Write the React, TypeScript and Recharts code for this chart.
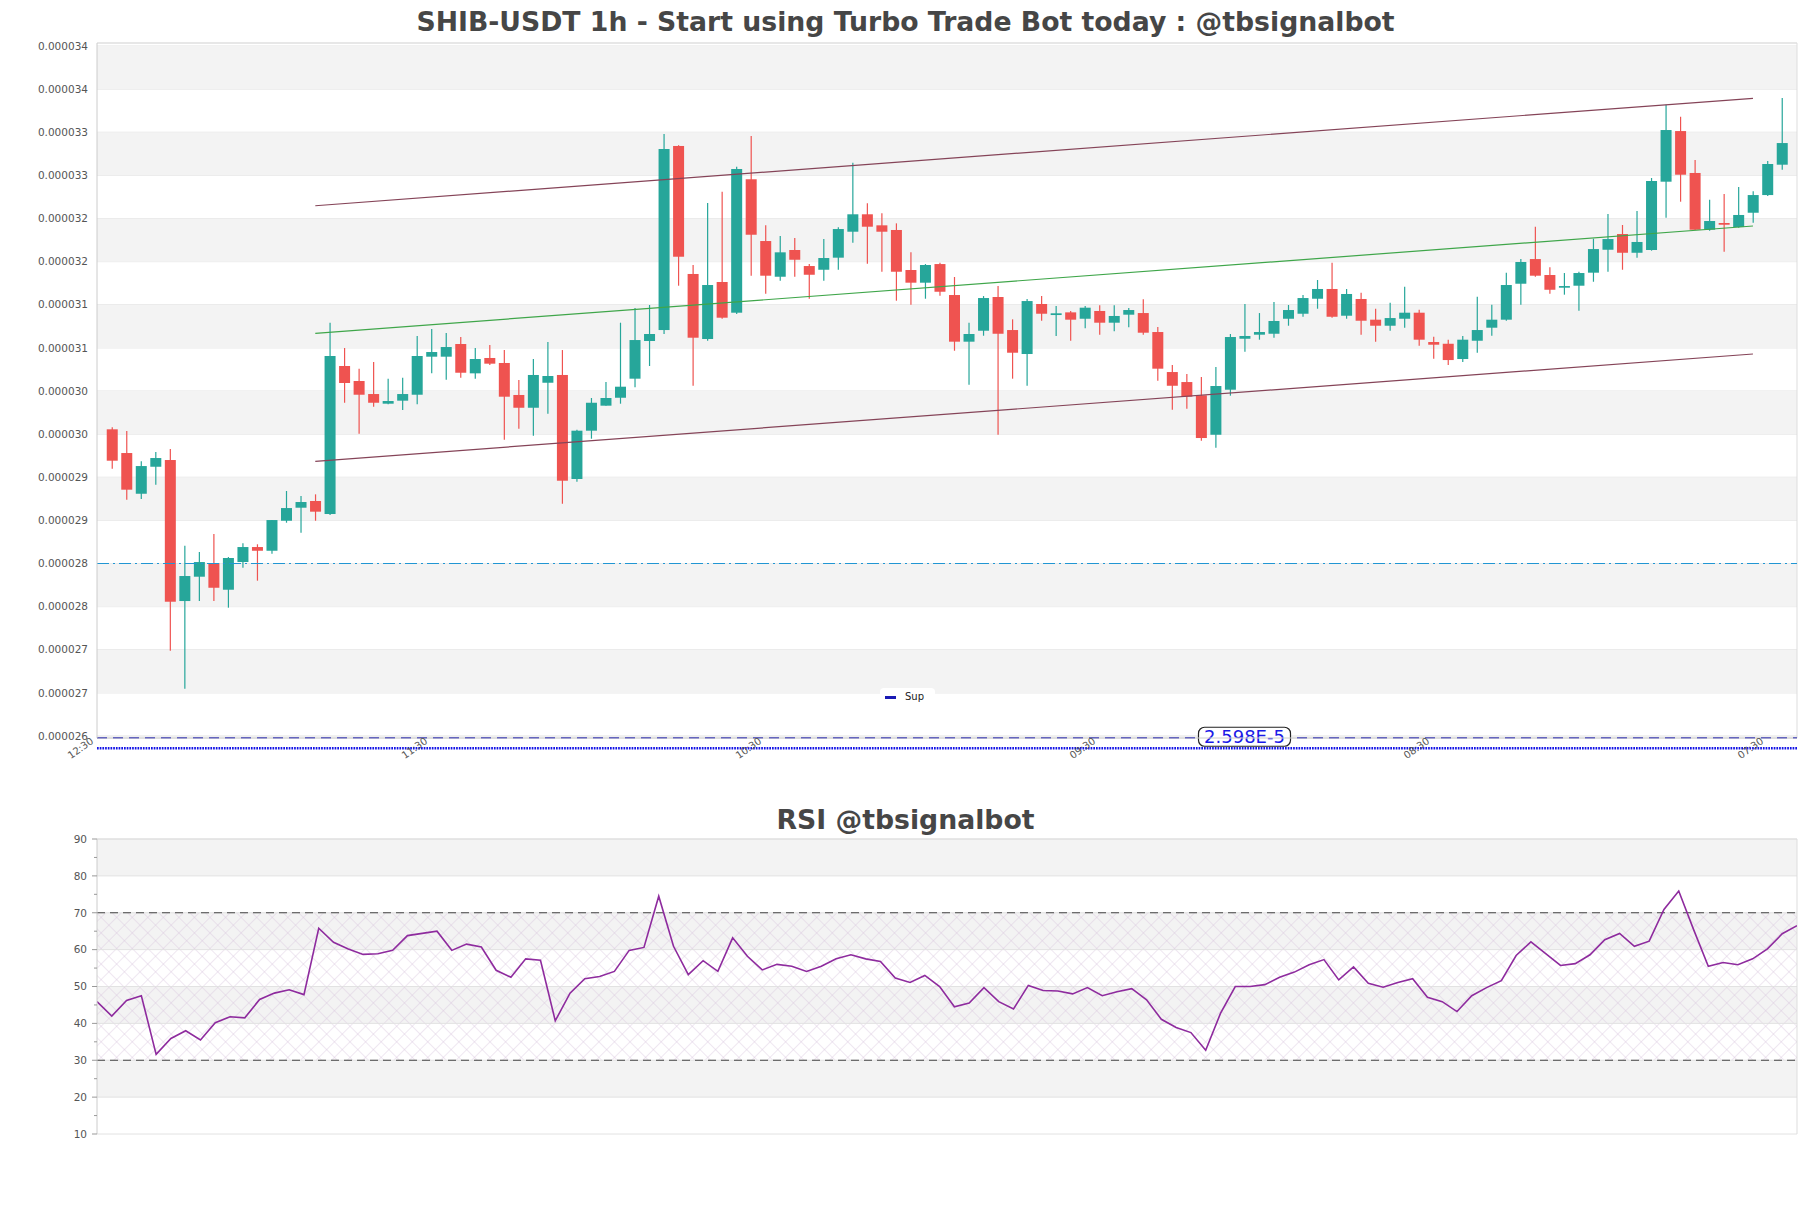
// SHIB-USDT 1h candles + channel, with RSI panel underneath
import React from 'react';
import {
    ComposedChart,
    Bar,
    Line,
    XAxis,
    YAxis,
    CartesianGrid,
    ReferenceLine,
    ReferenceArea,
} from 'recharts';

// prices are in units of 1e-6 USDT
const opens = [
    29.556, 29.281, 28.809, 29.122, 29.2, 27.565, 27.847, 28.006, 27.696, 28.017,
    28.191, 28.148, 28.496, 28.647, 28.725, 28.574, 30.29, 30.116, 29.965, 29.853,
    29.888, 29.957, 30.398, 30.398, 30.545, 30.205, 30.383, 30.325, 29.954, 29.806,
    30.096, 30.186, 28.98, 29.54, 29.83, 29.922, 30.143, 30.58, 30.707, 32.841,
    31.357, 30.603, 31.264, 30.908, 32.455, 31.739, 31.325, 31.635, 31.449, 31.406,
    31.546, 31.847, 32.049, 31.921, 31.867, 31.403, 31.256, 31.472, 31.113, 30.572,
    30.699, 31.09, 30.707, 30.429, 31.009, 30.881, 30.912, 30.838, 30.928, 30.792,
    30.885, 30.904, 30.684, 30.22, 30.104, 29.95, 29.493, 30.015, 30.606, 30.653,
    30.664, 30.838, 30.896, 31.07, 31.183, 30.873, 31.067, 30.827, 30.757, 30.838,
    30.908, 30.568, 30.548, 30.371, 30.583, 30.734, 30.827, 31.244, 31.53, 31.345,
    31.198, 31.221, 31.372, 31.638, 31.82, 31.603, 31.635, 32.427, 33.014, 32.528,
    31.87, 31.948, 31.901, 32.067, 32.272, 32.624,
];
const highs = [
    29.579, 29.536, 29.185, 29.293, 29.328, 28.206, 28.133, 28.342, 28.075, 28.234,
    28.223, 28.504, 28.841, 28.783, 28.802, 30.792, 30.499, 30.259, 30.336, 30.143,
    30.154, 30.638, 30.719, 30.672, 30.626, 30.499, 30.533, 30.475, 30.128, 30.371,
    30.568, 30.475, 29.551, 29.919, 30.104, 30.792, 30.962, 30.997, 32.98, 32.85,
    31.461, 32.18, 32.311, 32.601, 32.957, 31.921, 31.797, 31.774, 31.472, 31.762,
    31.898, 32.647, 32.176, 32.06, 31.944, 31.608, 31.472, 31.488, 31.322, 30.792,
    31.101, 31.217, 30.831, 31.067, 31.101, 30.986, 30.928, 30.986, 30.994, 30.994,
    30.962, 31.063, 30.742, 30.301, 30.197, 30.162, 30.278, 30.661, 31.009, 30.904,
    31.032, 30.997, 31.113, 31.287, 31.488, 31.183, 31.14, 30.954, 31.024, 31.209,
    30.943, 30.63, 30.595, 30.638, 31.093, 31.001, 31.372, 31.53, 31.905, 31.434,
    31.368, 31.383, 31.766, 32.052, 31.925, 32.087, 32.47, 33.32, 33.18, 32.678,
    32.218, 32.284, 32.365, 32.315, 32.667, 33.397,
];
const lows = [
    29.099, 28.74, 28.748, 28.914, 26.989, 26.548, 27.565, 27.565, 27.488, 27.951,
    27.801, 28.114, 28.473, 28.357, 28.496, 28.562, 29.864, 29.505, 29.818, 29.846,
    29.78, 29.846, 30.205, 30.131, 30.154, 30.143, 30.301, 29.435, 29.563, 29.482,
    29.737, 28.693, 28.948, 29.447, 29.83, 29.853, 30.043, 30.29, 30.661, 31.221,
    30.061, 30.583, 30.838, 30.893, 31.337, 31.128, 31.279, 31.325, 31.07, 31.279,
    31.406, 31.72, 31.476, 31.383, 31.047, 31.001, 31.07, 31.105, 30.467, 30.073,
    30.641, 29.493, 30.143, 30.061, 30.815, 30.638, 30.583, 30.727, 30.653, 30.692,
    30.739, 30.653, 30.119, 29.783, 29.795, 29.424, 29.343, 29.946, 30.456, 30.595,
    30.618, 30.757, 30.861, 30.954, 30.85, 30.838, 30.653, 30.572, 30.699, 30.734,
    30.525, 30.374, 30.301, 30.336, 30.444, 30.641, 30.815, 31.001, 31.325, 31.128,
    31.117, 30.931, 31.267, 31.383, 31.406, 31.546, 31.627, 32.009, 32.195, 31.867,
    31.859, 31.615, 31.893, 31.951, 32.261, 32.566,
];
const closes = [
    29.192, 28.856, 29.13, 29.223, 27.557, 27.855, 28.017, 27.719, 28.064, 28.191,
    28.148, 28.504, 28.643, 28.713, 28.601, 30.406, 30.093, 29.957, 29.864, 29.884,
    29.965, 30.406, 30.452, 30.51, 30.212, 30.371, 30.317, 29.934, 29.806, 30.186,
    30.174, 28.96, 29.54, 29.864, 29.919, 30.05, 30.591, 30.661, 32.806, 31.557,
    30.618, 31.229, 30.85, 32.574, 31.812, 31.337, 31.608, 31.522, 31.348, 31.542,
    31.878, 32.049, 31.905, 31.847, 31.383, 31.256, 31.461, 31.151, 30.572, 30.661,
    31.078, 30.664, 30.444, 31.043, 30.896, 30.901, 30.827, 30.966, 30.792, 30.87,
    30.939, 30.676, 30.259, 30.061, 29.934, 29.455, 30.058, 30.626, 30.638, 30.684,
    30.812, 30.939, 31.078, 31.183, 30.861, 31.125, 30.815, 30.757, 30.846, 30.908,
    30.595, 30.537, 30.359, 30.595, 30.707, 30.827, 31.229, 31.496, 31.337, 31.174,
    31.217, 31.368, 31.646, 31.762, 31.603, 31.728, 32.435, 33.026, 32.508, 31.87,
    31.971, 31.928, 32.041, 32.272, 32.632, 32.875,
];

const rsiValues = [
    45.9, 42.0, 46.2, 47.5, 31.6, 35.9, 38.0, 35.5, 40.2, 41.8,
    41.5, 46.5, 48.2, 49.1, 47.8, 65.8, 62.0, 60.2, 58.7, 58.9,
    59.8, 63.8, 64.4, 65.0, 59.8, 61.5, 60.7, 54.4, 52.5, 57.5,
    57.1, 40.7, 48.2, 52.1, 52.7, 54.1, 59.8, 60.6, 74.5, 60.9,
    53.2, 57.0, 54.1, 63.2, 58.2, 54.5, 56.0, 55.5, 54.1, 55.5,
    57.5, 58.6, 57.5, 56.8, 52.3, 51.1, 53.0, 50.0, 44.5, 45.5,
    49.7, 45.9, 43.9, 50.3, 48.9, 48.8, 48.0, 49.7, 47.5, 48.6,
    49.4, 46.4, 41.1, 38.9, 37.5, 32.7, 42.7, 50.0, 50.0, 50.5,
    52.5, 53.9, 55.9, 57.3, 51.8, 55.3, 50.9, 49.8, 51.1, 52.1,
    47.1, 45.9, 43.2, 47.5, 49.7, 51.6, 58.4, 62.1, 58.9, 55.7,
    56.2, 58.6, 62.7, 64.4, 60.9, 62.3, 70.9, 75.9, 65.5, 55.5,
    56.5, 55.9, 57.5, 60.2, 64.3, 66.5,
];

// x axis labels (every 23 candles)
const xLabelIdx = [0, 23, 46, 69, 92, 115];
const xLabels = ['12:30', '11:30', '10:30', '09:30', '08:30', '07:30'];

const priceTicks = [26, 26.5, 27, 27.5, 28, 28.5, 29, 29.5, 30, 30.5, 31, 31.5, 32, 32.5, 33, 33.5, 34];
const priceTickLabels = [
    '0.000026', '0.000027', '0.000027', '0.000028', '0.000028', '0.000029', '0.000029', '0.000030',
    '0.000030', '0.000031', '0.000031', '0.000032', '0.000032', '0.000033', '0.000033', '0.000034', '0.000034',
];
const priceDomain = [25.977, 34.035];
const candleDomain = [-1.033, 116.033];

// trend channel: start / end candle and values
const channelIdx = [14, 113];
const channelUpper = [32.148, 33.394];
const channelMid = [30.669, 31.913];
const channelLower = [29.185, 30.429];

const levelDash = 28.0;
const supLevel = 25.98;
const supLow = 25.857;

const rsiTicks = [10, 15, 20, 25, 30, 35, 40, 45, 50, 55, 60, 65, 70, 75, 80, 85, 90];
const rsiMajor = [10, 20, 30, 40, 50, 60, 70, 80, 90];

const GREEN = '#26a69a';
const RED = '#ef5350';

const candles = opens.map((o, i) => {
    const c = channelIdx.indexOf(i);
    return {
        i,
        open: o,
        high: highs[i],
        low: lows[i],
        close: closes[i],
        range: [lows[i], highs[i]],
        upper: c >= 0 ? channelUpper[c] : null,
        mid: c >= 0 ? channelMid[c] : null,
        lower: c >= 0 ? channelLower[c] : null,
    };
});

const rsiData = rsiValues.map((v, i) => ({ i, rsi: v }));

// gray stripes on every other tick interval
const priceBands = priceTicks.slice(0, -1).map((t, k) => [t, priceTicks[k + 1]]).filter((_, k) => k % 2 === 1);
const rsiBands = rsiMajor.slice(0, -1).map((t, k) => [t, rsiMajor[k + 1]]).filter((_, k) => k % 2 === 1);

function Candle(props: any) {
    const { x, y, width, height, payload } = props;
    if (!payload || height == null) return null;
    const { open, close, high, low } = payload;
    const cx = x + width / 2;
    const k = high > low ? height / (high - low) : 0;
    const top = y + (high - Math.max(open, close)) * k;
    const bot = y + (high - Math.min(open, close)) * k;
    const color = close >= open ? GREEN : RED;
    const bw = 11;
    return (
        <g>
            <line x1={cx} x2={cx} y1={y} y2={y + height} stroke={color} strokeWidth={1.2} />
            <rect x={cx - bw / 2} y={top} width={bw} height={Math.max(bot - top, 1.5)} fill={color} />
        </g>
    );
}

function PriceXTick(props: any) {
    const { x, y, payload } = props;
    const label = xLabels[xLabelIdx.indexOf(payload.value)] ?? '';
    return (
        <g transform={`translate(${x - 22},${y - 1.5}) rotate(-35)`}>
            <text textAnchor="end" dy="0.75em" fontSize={10} fill="#555">
                {label}
            </text>
        </g>
    );
}

function RsiTick(props: any) {
    const { x, y, payload } = props;
    const major = payload.value % 10 === 0;
    return (
        <g>
            <line x1={x - (major ? 5 : 3)} x2={x} y1={y} y2={y} stroke="#999" />
            {major && (
                <text x={x - 10} y={y} dy="0.36em" textAnchor="end" fontSize={10.5} fill="#555">
                    {payload.value}
                </text>
            )}
        </g>
    );
}

function SupLabel(props: any) {
    const vb = props.viewBox || {};
    if (vb.x == null) return null;
    const cx = vb.x + vb.width * 0.675;
    const cy = vb.y - 1;
    const text = (supLevel * 1e-6).toExponential(3).toUpperCase();
    return (
        <g>
            <rect x={cx - 46} y={cy - 9.5} width={92} height={19} rx={6} fill="#fff" stroke="#222" strokeWidth={1.2} />
            <text x={cx} y={cy} dy="0.36em" textAnchor="middle" fontSize={18} fill="#1a1ae6">
                {text}
            </text>
        </g>
    );
}

const titleStyle: React.CSSProperties = {
    position: 'absolute',
    left: 0,
    width: 1811,
    textAlign: 'center',
    fontSize: 26.7,
    fontWeight: 'bold',
    color: '#464646',
    lineHeight: '30px',
};

export default function App() {
    return (
        <div
            style={{
                position: 'absolute',
                left: 0,
                top: 0,
                width: 1811,
                height: 1208,
                background: '#fff',
                fontFamily: '"DejaVu Sans", sans-serif',
                overflow: 'hidden',
            }}
        >
            <div style={{ ...titleStyle, top: 7 }}>SHIB-USDT 1h - Start using Turbo Trade Bot today : @tbsignalbot</div>

            <div style={{ position: 'absolute', left: 0, top: 0 }}>
                <ComposedChart width={1811} height={780} data={candles} margin={{ top: 43, right: 14, bottom: 0, left: 0 }}>
                    {priceBands.map(([a, b]) => (
                        <ReferenceArea key={a} y1={a} y2={b} fill="#f3f3f3" fillOpacity={1} stroke="none" />
                    ))}
                    <CartesianGrid vertical={false} stroke="#e2e2e2" />
                    <XAxis
                        type="number"
                        dataKey="i"
                        domain={candleDomain}
                        allowDataOverflow
                        ticks={xLabelIdx}
                        interval={0}
                        tick={<PriceXTick />}
                        tickLine={false}
                        tickSize={0}
                        tickMargin={0}
                        axisLine={{ stroke: '#ccc' }}
                        height={42}
                    />
                    <YAxis
                        type="number"
                        domain={priceDomain}
                        allowDataOverflow
                        ticks={priceTicks}
                        interval={0}
                        tickFormatter={(v) => priceTickLabels[priceTicks.indexOf(v)] ?? ''}
                        tick={{ fontSize: 10.5, fill: '#555' }}
                        tickLine={false}
                        tickSize={6}
                        tickMargin={3}
                        axisLine={{ stroke: '#ccc' }}
                        width={97}
                    />
                    <ReferenceLine y={priceDomain[1]} stroke="#ddd" ifOverflow="visible" />
                    <ReferenceLine x={candleDomain[1]} stroke="#ddd" ifOverflow="visible" />
                    <ReferenceLine y={levelDash} stroke="#2196d3" strokeWidth={1.2} strokeDasharray="12 4 2 4" />
                    <Bar dataKey="range" barSize={11} shape={<Candle />} isAnimationActive={false} />
                    <Line dataKey="upper" stroke="#854458" strokeWidth={1.2} dot={false} connectNulls isAnimationActive={false} />
                    <Line dataKey="mid" stroke="#3fa64a" strokeWidth={1.2} dot={false} connectNulls isAnimationActive={false} />
                    <Line dataKey="lower" stroke="#854458" strokeWidth={1.2} dot={false} connectNulls isAnimationActive={false} />
                    <ReferenceLine y={supLow} stroke="#1414e6" strokeWidth={2.5} strokeDasharray="1.7 1" ifOverflow="visible" />
                    <ReferenceLine
                        y={supLevel}
                        stroke="#0000b0"
                        strokeWidth={1.5}
                        strokeDasharray="10 6"
                        ifOverflow="visible"
                        label={<SupLabel />}
                    />
                </ComposedChart>
            </div>

            {/* legend */}
            <div
                style={{
                    position: 'absolute',
                    left: 880,
                    top: 688,
                    width: 55,
                    height: 18,
                    background: '#fff',
                    borderRadius: 4,
                    fontSize: 10,
                    color: '#222',
                }}
            >
                <div style={{ position: 'absolute', left: 5, top: 8, width: 11, height: 2.5, background: '#1a1ab4' }} />
                <div style={{ position: 'absolute', left: 25, top: 2, lineHeight: '14px' }}>Sup</div>
            </div>

            <div style={{ ...titleStyle, top: 805 }}>RSI @tbsignalbot</div>

            <div style={{ position: 'absolute', left: 0, top: 800 }}>
                <ComposedChart width={1811} height={344} data={rsiData} margin={{ top: 39, right: 14, bottom: 10, left: 0 }}>
                    <defs>
                        <pattern id="rsiHatch" width={11} height={11} patternUnits="userSpaceOnUse" patternTransform="rotate(45)">
                            <path d="M0 0 L0 11 M0 0 L11 0" stroke="#d7c3dd" strokeWidth={0.8} fill="none" />
                        </pattern>
                    </defs>
                    {rsiBands.map(([a, b]) => (
                        <ReferenceArea key={a} y1={a} y2={b} fill="#f3f3f3" fillOpacity={1} stroke="none" />
                    ))}
                    {rsiMajor.map((t) => (
                        <ReferenceLine key={t} y={t} stroke="#e2e2e2" />
                    ))}
                    <ReferenceArea y1={30} y2={70} fill="url(#rsiHatch)" fillOpacity={1} stroke="none" />
                    <XAxis
                        type="number"
                        dataKey="i"
                        domain={[0, rsiValues.length - 1]}
                        allowDataOverflow
                        tick={false}
                        tickLine={false}
                        axisLine={{ stroke: '#ddd' }}
                        height={0}
                    />
                    <YAxis
                        type="number"
                        domain={[10, 90]}
                        allowDataOverflow
                        ticks={rsiTicks}
                        interval={0}
                        tick={<RsiTick />}
                        tickLine={false}
                        tickSize={0}
                        tickMargin={0}
                        axisLine={{ stroke: '#ccc' }}
                        width={97}
                    />
                    <ReferenceLine y={90} stroke="#ddd" ifOverflow="visible" />
                    <ReferenceLine x={rsiValues.length - 1} stroke="#ddd" ifOverflow="visible" />
                    <ReferenceLine y={70} stroke="#444" strokeWidth={1.2} strokeDasharray="8 5" />
                    <ReferenceLine y={30} stroke="#444" strokeWidth={1.2} strokeDasharray="8 5" />
                    <Line dataKey="rsi" stroke="#8e2b9e" strokeWidth={1.6} dot={false} isAnimationActive={false} />
                </ComposedChart>
            </div>
        </div>
    );
}
